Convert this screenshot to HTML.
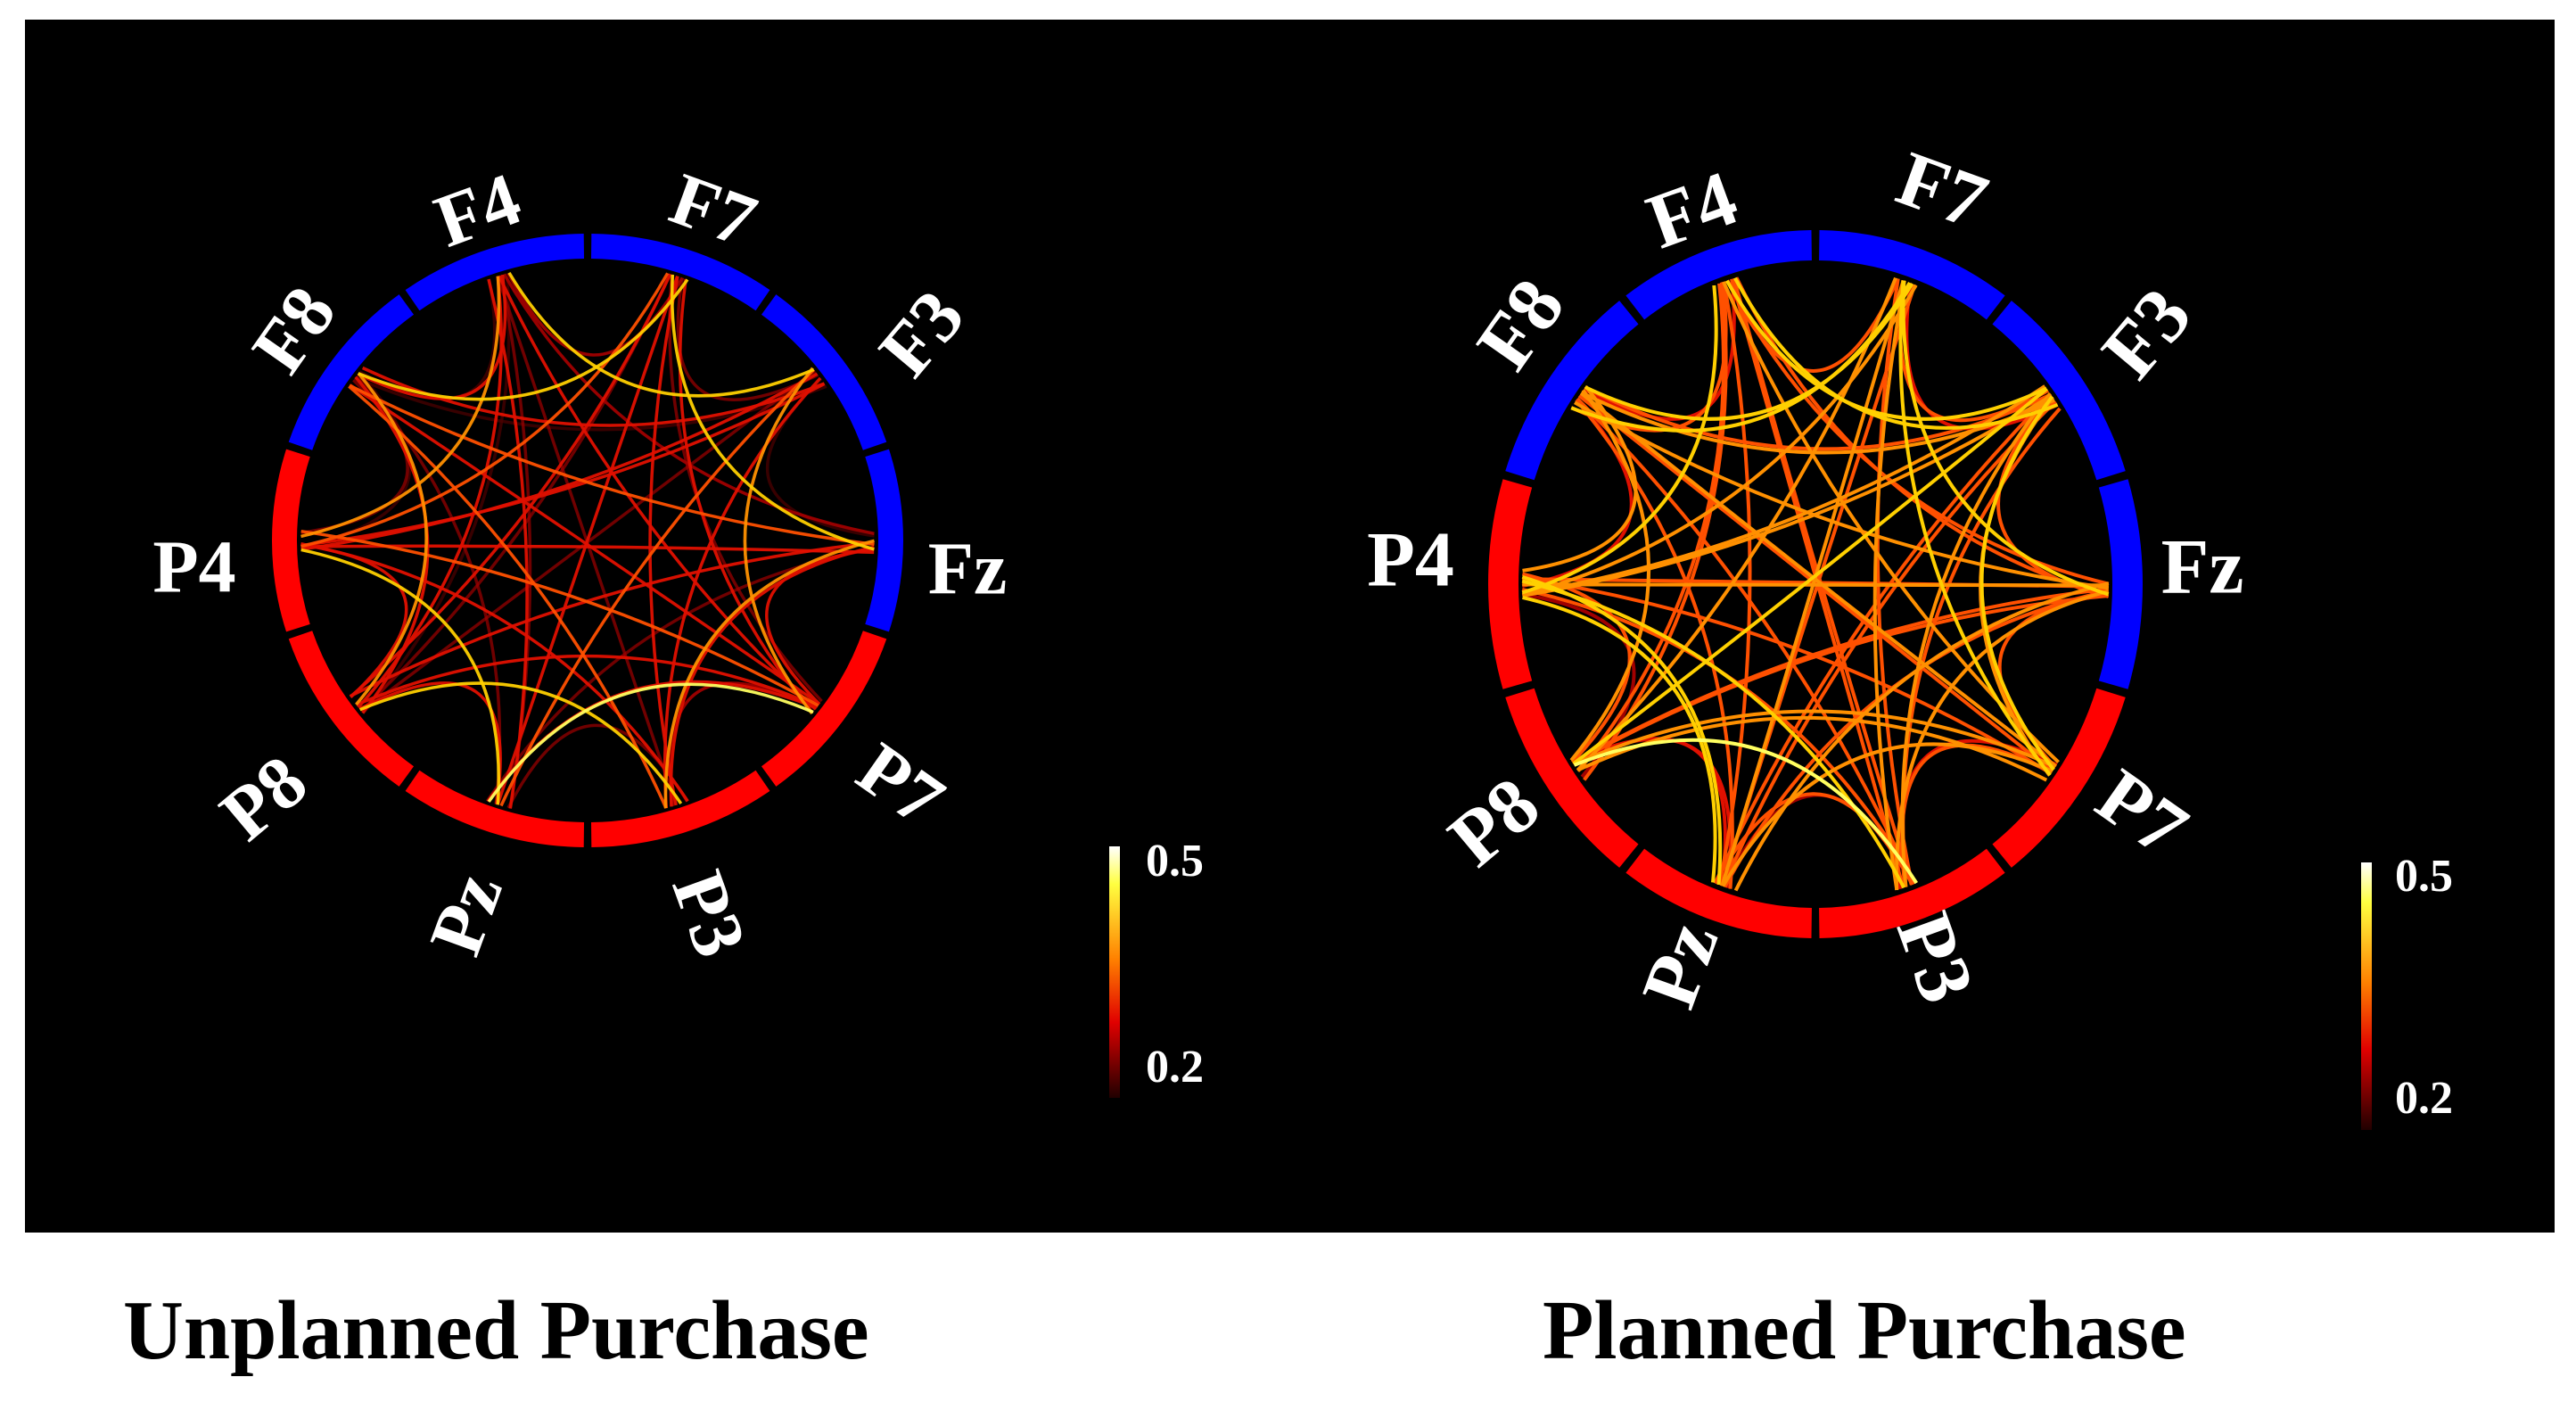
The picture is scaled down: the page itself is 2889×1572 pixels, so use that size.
<!DOCTYPE html>
<html><head><meta charset="utf-8"><style>
html,body{margin:0;padding:0;background:#fff;}
body{width:2889px;height:1572px;position:relative;overflow:hidden;font-family:"Liberation Serif",serif;}
.cap{position:absolute;font-weight:bold;font-size:94px;color:#000;white-space:nowrap;}
</style></head><body>
<svg id="s" width="2889" height="1572" style="position:absolute;left:0;top:0" xmlns="http://www.w3.org/2000/svg">
<defs>
<linearGradient id="cb" x1="0" y1="0" x2="0" y2="1">
<stop offset="0" stop-color="#ffffff"/><stop offset="0.15" stop-color="#ffff40"/><stop offset="0.45" stop-color="#ff8000"/><stop offset="0.7" stop-color="#e00000"/><stop offset="1" stop-color="#200000"/>
</linearGradient>
</defs>
<rect x="28" y="22" width="2837" height="1360" fill="#000"/>
<g id="L"></g><g id="R"></g>
<rect x="1244" y="949" width="12" height="282" fill="url(#cb)"/>
<text x="1285" y="982" font-family="Liberation Serif" font-weight="bold" font-size="52" fill="#fff">0.5</text>
<text x="1285" y="1213" font-family="Liberation Serif" font-weight="bold" font-size="52" fill="#fff">0.2</text>
<rect x="2648" y="967" width="12" height="300" fill="url(#cb)"/>
<text x="2686" y="999" font-family="Liberation Serif" font-weight="bold" font-size="52" fill="#fff">0.5</text>
<text x="2686" y="1248" font-family="Liberation Serif" font-weight="bold" font-size="52" fill="#fff">0.2</text>
<g font-family="Liberation Serif" font-weight="bold" fill="#fff" font-size="84" text-anchor="middle" dominant-baseline="central">
<text transform="translate(536,236) rotate(-20)">F4</text>
<text transform="translate(800,236) rotate(20)">F7</text>
<text transform="translate(1034,374) rotate(-50)">F3</text>
<text transform="translate(1085,638) rotate(0)">Fz</text>
<text transform="translate(1010,880) rotate(35)">P7</text>
<text transform="translate(795,1025) rotate(70)">P3</text>
<text transform="translate(523,1025) rotate(-70)">Pz</text>
<text transform="translate(296,895) rotate(-40)">P8</text>
<text transform="translate(218,636) rotate(0)">P4</text>
<text transform="translate(330,370) rotate(-55)">F8</text>
</g>
<g font-family="Liberation Serif" font-weight="bold" fill="#fff" font-size="88" text-anchor="middle" dominant-baseline="central">
<text transform="translate(1898,236) rotate(-20)">F4</text>
<text transform="translate(2178,214) rotate(20)">F7</text>
<text transform="translate(2408,374) rotate(-50)">F3</text>
<text transform="translate(2470,636) rotate(0)">Fz</text>
<text transform="translate(2402,912) rotate(35)">P7</text>
<text transform="translate(2170,1074) rotate(70)">P3</text>
<text transform="translate(1885,1082) rotate(-70)">Pz</text>
<text transform="translate(1676,922) rotate(-40)">P8</text>
<text transform="translate(1582,628) rotate(0)">P4</text>
<text transform="translate(1706,364) rotate(-55)">F8</text>
</g>
</svg>
<div class="cap" style="left:138px;top:1438px;">Unplanned Purchase</div>
<div class="cap" style="left:1730px;top:1438px;">Planned Purchase</div>
<script>
(function(){
var seed=7;function rnd(){seed=(seed*9301+49297)%233280;return seed/233280;}
var NS="http://www.w3.org/2000/svg";
function el(g,tag,at){var e=document.createElementNS(NS,tag);for(var k in at)e.setAttribute(k,at[k]);g.appendChild(e);return e;}
function col(w){
 if(w>0.85)return "#ffff60"; if(w>0.7)return "#ffd000"; if(w>0.55)return "#ff9000"; if(w>0.4)return "#ff5000"; if(w>0.25)return "#e01000"; if(w>0.12)return "#a00000"; return "#500000";}
function draw(id,cx,cy,rx,ry,th,mode){
 var g=document.getElementById(id);
 var ang=[108,72,36,0,-36,-72,-108,-144,180,144];
 function P(a,k){var r=a*Math.PI/180;return [cx+rx*k*Math.cos(r),cy-ry*k*Math.sin(r)];}
 var kin=(1-th/2/Math.min(rx,ry))-0.012;
 var lines=[];
 for(var i=0;i<10;i++)for(var j=i+1;j<10;j++){
  var d=Math.min(j-i,10-(j-i)); var n,base;
  if(mode==0){n=1+(rnd()<0.35?1:0); base=(d==2)?0.72:(d==4?0.45:(d==1?0.2:0.28));}
  else{n=1+(rnd()<0.6?1:0); base=(d==2)?0.8:(d==1?0.4:0.58);}
  for(var m=0;m<n;m++){
   var w=base+(rnd()-0.5)*0.35; if(mode==0&&m>0)w*=0.5;
   var a1=ang[i]+(rnd()-0.5)*5,a2=ang[j]+(rnd()-0.5)*5;
   lines.push([w,a1,a2]);
  }
 }
 lines.sort(function(a,b){return a[0]-b[0];});
 lines.forEach(function(L){
  var p=P(L[1],kin),q=P(L[2],kin);
  var mx=(p[0]+q[0])/2,my=(p[1]+q[1])/2;
  var cxp=mx+(cx-mx)*0.6,cyp=my+(cy-my)*0.6;
  el(g,"path",{d:"M"+p[0].toFixed(1)+","+p[1].toFixed(1)+" Q"+cxp.toFixed(1)+","+cyp.toFixed(1)+" "+q[0].toFixed(1)+","+q[1].toFixed(1),fill:"none",stroke:col(L[0]),"stroke-width":mode==0?3.5:4,"stroke-opacity":mode==0?(L[0]<0.2?0.7:0.95):1});
 });
 for(var s=0;s<10;s++){
  var a0=ang[s]+18-0.7,a1=ang[s]-18+0.7;
  var p=P(a0,1),q=P(a1,1);
  var blue=(s<4||s==9);
  el(g,"path",{d:"M"+p[0]+","+p[1]+" A"+rx+","+ry+" 0 0 1 "+q[0]+","+q[1],fill:"none",stroke:blue?"#0000ff":"#ff0000","stroke-width":th});
 }
}
draw("L",659,606,340,330,28,0);
draw("R",2036,655,350,380,34,1);
})();
</script>
</body></html>
